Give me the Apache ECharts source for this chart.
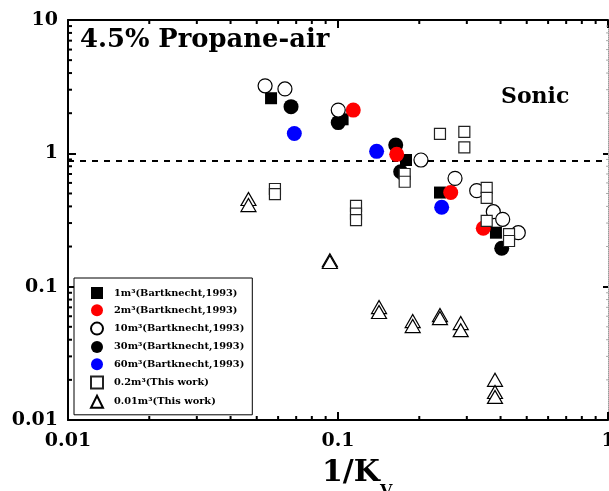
<!DOCTYPE html>
<html><head><meta charset="utf-8">
<script src="https://cdn.jsdelivr.net/npm/echarts@6/dist/echarts.min.js"></script>
<style>html,body{margin:0;padding:0;background:#fff}#c{width:609px;height:491px}</style>
</head><body><div id="c"></div>
<script>
const FONT = '"DejaVu Serif", "Liberation Serif", serif';

// tick labels and minor ticks
const xTickLabels = ['0.01', '0.1', '1'];
const yTickLabels = ['0.01', '0.1', '1', '10'];
const xMinorTicks = [0.02,0.03,0.04,0.05,0.06,0.07,0.08,0.09,0.2,0.3,0.4,0.5,0.6,0.7,0.8,0.9];
const yMinorTicks = [0.02,0.03,0.04,0.05,0.06,0.07,0.08,0.09,0.2,0.3,0.4,0.5,0.6,0.7,0.8,0.9,2,3,4,5,6,7,8,9];
const sonicLevel = 0.88;

// series names
const names = ['1m³(Bartknecht,1993)', '2m³(Bartknecht,1993)', '10m³(Bartknecht,1993)',
  '30m³(Bartknecht,1993)', '60m³(Bartknecht,1993)', '0.2m³(This work)', '0.01m³(This work)'];

// data
const m1_x = [0.0565, 0.104, 0.1786, 0.2386, 0.3846];
const m1_y = [2.59, 1.80, 0.891, 0.508, 0.254];
const m2_x = [0.1139, 0.165, 0.2615, 0.3452];
const m2_y = [2.11, 0.983, 0.508, 0.274];
const m10_x = [0.0537, 0.0636, 0.1002, 0.2029, 0.2713, 0.3264, 0.376, 0.4074, 0.4653];
const m10_y = [3.21, 3.04, 2.11, 0.891, 0.649, 0.525, 0.365, 0.320, 0.254];
const m30_x = [0.067, 0.1002, 0.1636, 0.1707, 0.404];
const m30_y = [2.24, 1.70, 1.154, 0.728, 0.194];
const m60_x = [0.0689, 0.139, 0.2421];
const m60_y = [1.41, 1.035, 0.394];
const w02_x = [0.0584, 0.0584, 0.1166, 0.1166, 0.1166, 0.1766, 0.1766, 0.2386, 0.2937, 0.2937, 0.3554, 0.3554, 0.3554, 0.43, 0.43];
const w02_y = [0.540, 0.495, 0.403, 0.353, 0.316, 0.70, 0.612, 1.40, 1.45, 1.109, 0.55, 0.464, 0.312, 0.248, 0.220];
const w001_x = [0.0466, 0.0466, 0.0933, 0.0933, 0.1419, 0.1419, 0.1891, 0.1891, 0.2386, 0.2386, 0.2848, 0.2848, 0.3815, 0.3815, 0.3815];
const w001_y = [0.454, 0.409, 0.158, 0.153, 0.0703, 0.0645, 0.0552, 0.0506, 0.0612, 0.0581, 0.0533, 0.0472, 0.0200, 0.0162, 0.0149];

const zip = (xs, ys) => xs.map((x, i) => [x, ys[i]]);
const findLabel = (arr, v) => arr.find(s => Math.abs(Math.log10(+s) - Math.log10(v)) < 1e-6) || '';

const tickData = [];
xMinorTicks.forEach(v => tickData.push([v, 1, 0]));
yMinorTicks.forEach(v => tickData.push([0.1, v, 1]));

const labelStyle = {fontFamily: FONT, fontWeight: 'bold', fontSize: 19, color: '#000'};
const blackLine = {color: '#000', width: 2};

const chart = echarts.init(document.getElementById('c'), null, {renderer: 'canvas'});
chart.setOption({
  animation: false,
  backgroundColor: '#fff',
  grid: {left: 68, right: 1, top: 20, bottom: 71, containLabel: false, outerBoundsMode: 'none'},
  xAxis: [
    {type: 'log', logBase: 10, min: 0.01, max: 1, position: 'bottom',
     axisLine: {onZero: false, lineStyle: blackLine},
     axisTick: {inside: true, length: 8, lineStyle: blackLine},
     axisLabel: Object.assign({margin: 12, showMinLabel: true, showMaxLabel: true,
       formatter: v => findLabel(xTickLabels, v)}, labelStyle),
     splitLine: {show: false}},
    {type: 'log', logBase: 10, min: 0.01, max: 1, position: 'top',
     axisLine: {onZero: false, lineStyle: blackLine},
     axisTick: {inside: true, length: 8, lineStyle: blackLine},
     axisLabel: {show: false}, splitLine: {show: false}}
  ],
  yAxis: [
    {type: 'log', logBase: 10, min: 0.01, max: 10, position: 'left',
     axisLine: {onZero: false, lineStyle: blackLine},
     axisTick: {inside: true, length: 8, lineStyle: blackLine},
     axisLabel: Object.assign({margin: 10, showMinLabel: true, showMaxLabel: true,
       formatter: v => findLabel(yTickLabels, v)}, labelStyle),
     splitLine: {show: false}},
    {type: 'log', logBase: 10, min: 0.01, max: 10, position: 'right',
     axisLine: {onZero: false, lineStyle: {color: '#999', width: 1, type: 'dotted'}},
     axisTick: {inside: true, length: 5, lineStyle: blackLine},
     axisLabel: {show: false}, splitLine: {show: false}}
  ],
  legend: {
    data: names, orient: 'vertical', left: 74, top: 278,
    padding: [9, 8, 6, 16], itemWidth: 12, itemHeight: 12, itemGap: 5.3,
    borderColor: '#000', borderWidth: 1, backgroundColor: '#fff', selectedMode: false,
    textStyle: {fontFamily: FONT, fontWeight: 'bold', fontSize: 9.8, color: '#000', lineHeight: 12,
      padding: [0, 0, 0, 6]}
  },
  graphic: [
    {type: 'text', left: 80, top: 27, style: {text: '4.5% Propane-air', font: 'bold 25.8px ' + FONT, fill: '#000'}},
    {type: 'text', left: 501, top: 86, style: {text: 'Sonic', font: 'bold 22px ' + FONT, fill: '#000'}},
    {type: 'text', left: 322, top: 458, style: {text: '1/K', font: 'bold 30px ' + FONT, fill: '#000'}},
    {type: 'text', left: 380, top: 484, style: {text: 'V', font: 'bold 16px ' + FONT, fill: '#000'}}
  ],
  series: [
    {type: 'custom', name: 'ticks', silent: true, z: 1, data: tickData,
     renderItem: function (params, api) {
       const cs = params.coordSys;
       const t = api.value(2);
       const st = {stroke: '#000', lineWidth: 2};
       if (t === 0) {
         const px = api.coord([api.value(0), 1])[0];
         const yb = cs.y + cs.height, yt = cs.y;
         return {type: 'group', children: [
           {type: 'line', shape: {x1: px, y1: yb, x2: px, y2: yb - 4}, style: st},
           {type: 'line', shape: {x1: px, y1: yt, x2: px, y2: yt + 4}, style: st}
         ]};
       }
       const py = api.coord([0.1, api.value(1)])[1];
       const xl = cs.x, xr = cs.x + cs.width;
       return {type: 'group', children: [
         {type: 'line', shape: {x1: xl, y1: py, x2: xl + 4, y2: py}, style: st},
         {type: 'line', shape: {x1: xr, y1: py, x2: xr - 2, y2: py}, style: {stroke: '#aaa', lineWidth: 1}}
       ]};
     }},
    {type: 'scatter', name: names[0], data: zip(m1_x, m1_y), symbol: 'rect', symbolSize: 12,
     itemStyle: {color: '#000', opacity: 1}, z: 3,
     markLine: {silent: true, z: 1, symbol: ['none', 'none'], label: {show: false},
       lineStyle: {color: '#000', width: 2, type: [6, 6], opacity: 1}, data: [{yAxis: sonicLevel}]}},
    {type: 'scatter', name: names[3], data: zip(m30_x, m30_y), symbol: 'circle', symbolSize: 15,
     itemStyle: {color: '#000', opacity: 1}, z: 3},
    {type: 'scatter', name: names[1], data: zip(m2_x, m2_y), symbol: 'circle', symbolSize: 15,
     itemStyle: {color: '#ff0000', opacity: 1}, z: 3},
    {type: 'scatter', name: names[2], data: zip(m10_x, m10_y), symbol: 'circle', symbolSize: 14,
     itemStyle: {color: '#fff', borderColor: '#000', borderWidth: 1.2, opacity: 1}, z: 3},
    {type: 'scatter', name: names[4], data: zip(m60_x, m60_y), symbol: 'circle', symbolSize: 15,
     itemStyle: {color: '#0000ff', opacity: 1}, z: 3},
    {type: 'scatter', name: names[5], data: zip(w02_x, w02_y), symbol: 'rect', symbolSize: 11,
     itemStyle: {color: '#fff', borderColor: '#222', borderWidth: 1.2, opacity: 1}, z: 3},
    {type: 'scatter', name: names[6], data: zip(w001_x, w001_y), symbol: 'triangle', symbolSize: [15, 13],
     itemStyle: {color: '#fff', borderColor: '#000', borderWidth: 1.2, opacity: 1}, z: 3}
  ]
});
</script></body></html>
